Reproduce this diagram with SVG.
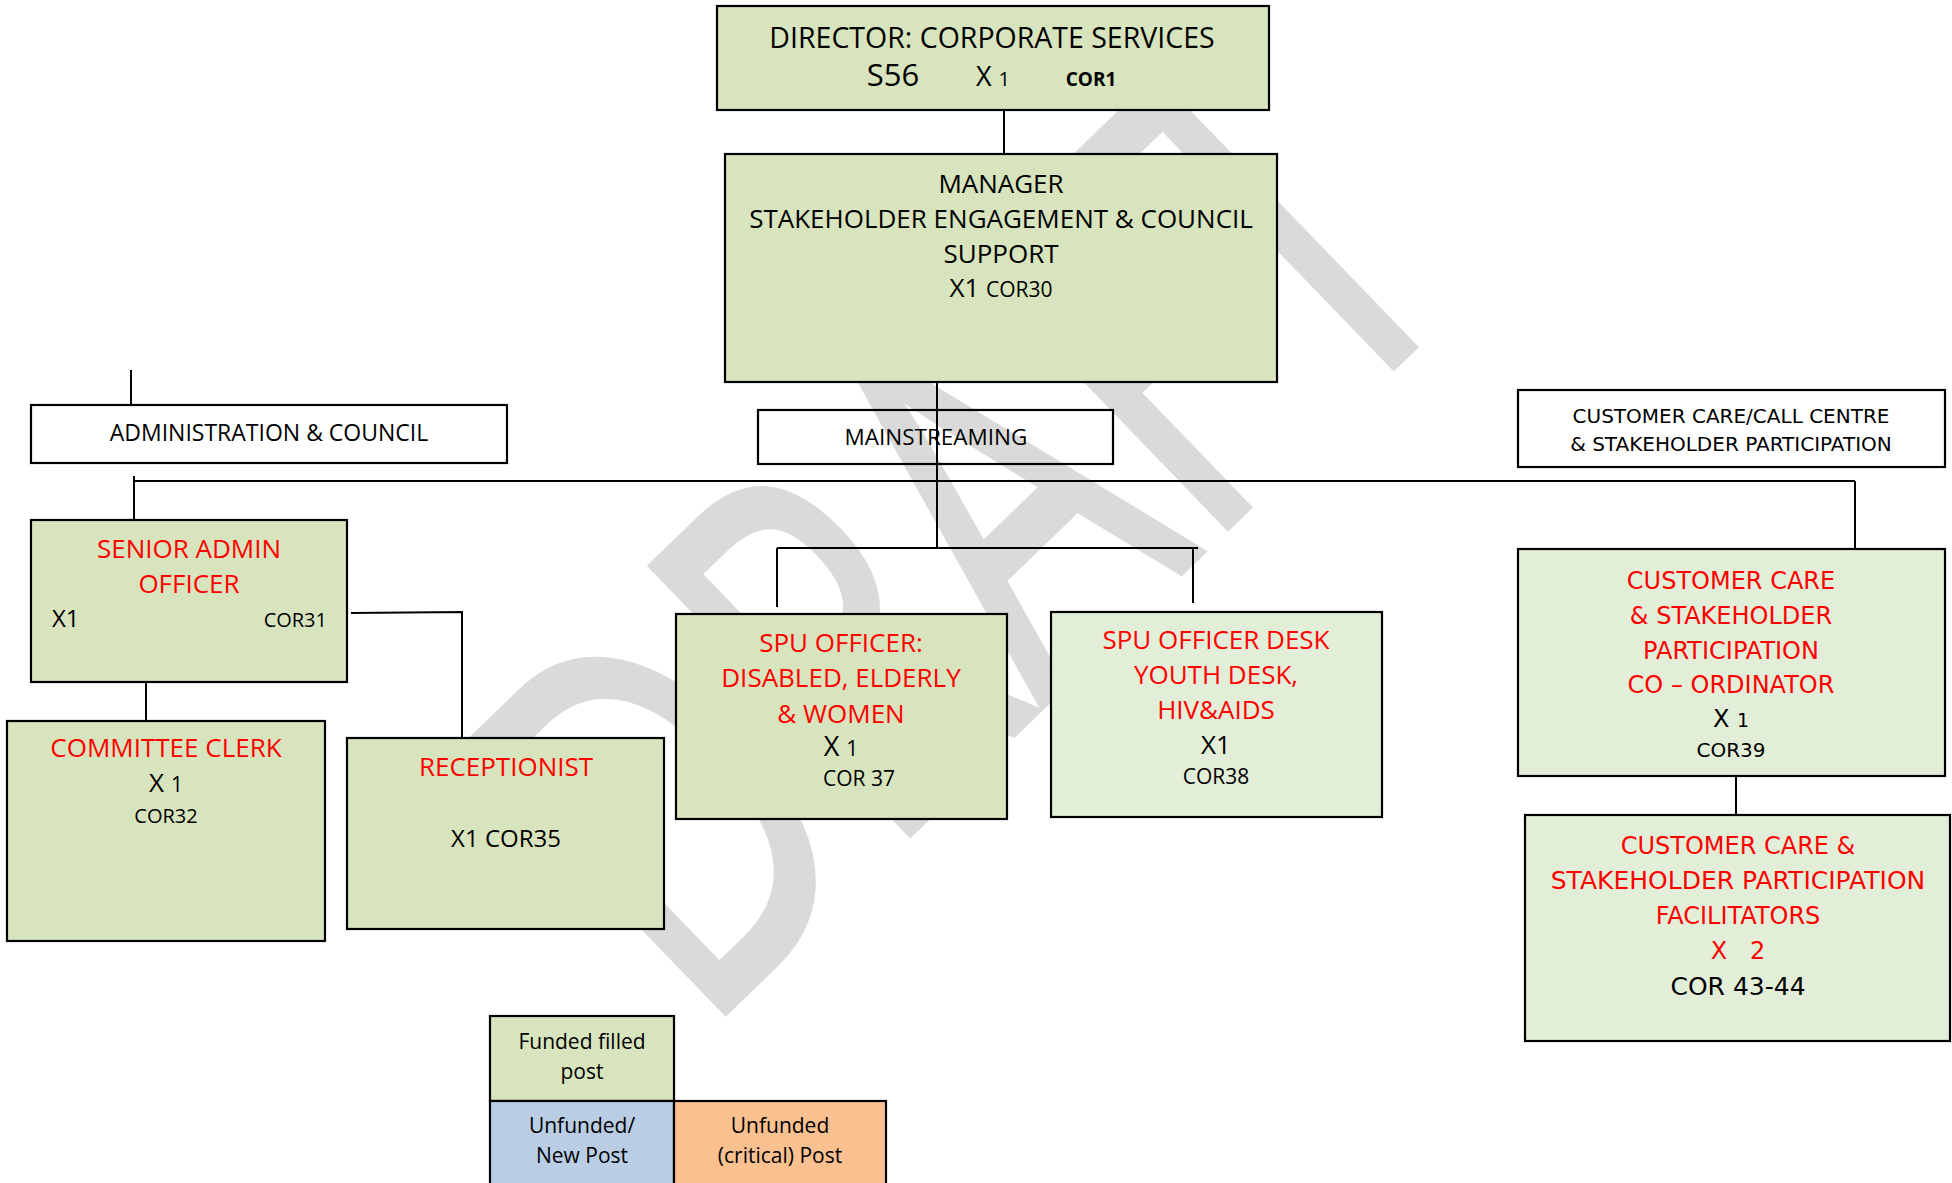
<svg xmlns="http://www.w3.org/2000/svg" width="1952" height="1183" viewBox="0 0 1952 1183">
<defs>
<style>
.box{stroke:#000;stroke-width:2.2}
.g{fill:#d7e4bd}
.lg{fill:#e3eed9}
.w{fill:none}
.t{font-family:"Open Sans","Liberation Sans",sans-serif;text-anchor:middle;fill:#000}
.d{font-family:"DejaVu Sans","Liberation Sans",sans-serif;text-anchor:middle;fill:#000}
.r{fill:#ff0000}
.ln{stroke:#000;stroke-width:2;fill:none}
</style>
</defs>
<rect width="1952" height="1183" fill="#fff"/>
<text x="0" y="0" transform="translate(700,1036) rotate(-44) scale(0.68,1)" font-family="Open Sans" font-size="520" fill="#dadada" stroke="#dadada" stroke-width="8">DRAFT</text>

<g id="connectors">
<line class="ln" x1="1004" y1="110" x2="1004" y2="154"/>
<line class="ln" x1="937" y1="382" x2="937" y2="548"/>
<line class="ln" x1="131" y1="370" x2="131" y2="405"/>
<line class="ln" x1="133" y1="481" x2="1855" y2="481"/>
<line class="ln" x1="134" y1="476" x2="134" y2="520"/>
<line class="ln" x1="1855" y1="481" x2="1855" y2="549"/>
<line class="ln" x1="777" y1="548" x2="1198" y2="548"/>
<line class="ln" x1="777" y1="548" x2="777" y2="607"/>
<line class="ln" x1="1193" y1="548" x2="1193" y2="603"/>
<path class="ln" d="M351,613 L462,612 L462,738"/>
<line class="ln" x1="146" y1="682" x2="146" y2="721"/>
<line class="ln" x1="1736" y1="776" x2="1736" y2="815"/>
</g>

<g id="director">
<rect class="box g" x="717" y="6" width="552" height="104"/>
<text class="t" x="992" y="48" font-size="28.5">DIRECTOR: CORPORATE SERVICES</text>
<text class="t" x="893" y="86" font-size="31">S56</text>
<text class="t" x="993" y="86" font-size="27">X <tspan font-size="20">1</tspan></text>
<text class="t" x="1091" y="86" font-size="19" font-weight="bold">COR1</text>
</g>

<g id="manager">
<rect class="box g" x="725" y="154" width="552" height="228"/>
<text class="t" x="1001" y="193" font-size="26">MANAGER</text>
<text class="t" x="1001" y="228" font-size="26">STAKEHOLDER ENGAGEMENT &amp; COUNCIL</text>
<text class="t" x="1001" y="263" font-size="26">SUPPORT</text>
<text class="t" x="1001" y="297" font-size="26">X1 <tspan font-size="21">COR30</tspan></text>
</g>

<g id="admin-council">
<rect class="box w" x="31" y="405" width="476" height="58"/>
<text class="t" x="269" y="441" font-size="23">ADMINISTRATION &amp; COUNCIL</text>
</g>

<g id="mainstreaming">
<rect class="box w" x="758" y="410" width="355" height="54"/>
<text class="t" x="936" y="445" font-size="22.5">MAINSTREAMING</text>
</g>

<g id="customer-care-centre">
<rect class="box w" x="1518" y="390" width="427" height="77"/>
<text class="d" x="1731" y="423" font-size="20">CUSTOMER CARE/CALL CENTRE</text>
<text class="d" x="1731" y="451" font-size="20">&amp; STAKEHOLDER PARTICIPATION</text>
</g>

<g id="senior-admin">
<rect class="box g" x="31" y="520" width="316" height="162"/>
<text class="t r" x="189" y="558" font-size="26">SENIOR ADMIN</text>
<text class="t r" x="189" y="593" font-size="26">OFFICER</text>
<text class="t" x="52" y="627" font-size="24" style="text-anchor:start">X1</text>
<text class="t" x="327" y="627" font-size="20" style="text-anchor:end">COR31</text>
</g>

<g id="committee-clerk">
<rect class="box g" x="7" y="721" width="318" height="220"/>
<text class="t r" x="166" y="757" font-size="26">COMMITTEE CLERK</text>
<text class="t" x="166" y="792" font-size="26">X <tspan font-size="21">1</tspan></text>
<text class="t" x="166" y="823" font-size="20">COR32</text>
</g>

<g id="receptionist">
<rect class="box g" x="347" y="738" width="317" height="191"/>
<text class="t r" x="506" y="776" font-size="26">RECEPTIONIST</text>
<text class="t" x="506" y="847" font-size="24">X1 COR35</text>
</g>

<g id="spu-officer">
<rect class="box g" x="676" y="614" width="331" height="205"/>
<text class="t r" x="841" y="652" font-size="26">SPU OFFICER:</text>
<text class="t r" x="841" y="687" font-size="26">DISABLED, ELDERLY</text>
<text class="t r" x="841" y="723" font-size="26">&amp; WOMEN</text>
<text class="t" x="841" y="756" font-size="27">X <tspan font-size="21">1</tspan></text>
<text class="t" x="859" y="786" font-size="21">COR 37</text>
</g>

<g id="spu-desk">
<rect class="box lg" x="1051" y="612" width="331" height="205"/>
<text class="t r" x="1216" y="649" font-size="26">SPU OFFICER DESK</text>
<text class="t r" x="1216" y="684" font-size="26">YOUTH DESK,</text>
<text class="t r" x="1216" y="719" font-size="26">HIV&amp;AIDS</text>
<text class="t" x="1216" y="754" font-size="26">X1</text>
<text class="t" x="1216" y="784" font-size="21">COR38</text>
</g>

<g id="cc-coordinator">
<rect class="box lg" x="1518" y="549" width="427" height="227"/>
<text class="d r" x="1731" y="589" font-size="24">CUSTOMER CARE</text>
<text class="d r" x="1731" y="624" font-size="24">&amp; STAKEHOLDER</text>
<text class="d r" x="1731" y="659" font-size="24">PARTICIPATION</text>
<text class="d r" x="1731" y="693" font-size="24">CO – ORDINATOR</text>
<text class="d" x="1731" y="727" font-size="24">X <tspan font-size="19">1</tspan></text>
<text class="d" x="1731" y="757" font-size="20">COR39</text>
</g>

<g id="cc-facilitators">
<rect class="box lg" x="1525" y="815" width="425" height="226"/>
<text class="d r" x="1738" y="854" font-size="24">CUSTOMER CARE &amp;</text>
<text class="d r" x="1738" y="889" font-size="25">STAKEHOLDER PARTICIPATION</text>
<text class="d r" x="1738" y="924" font-size="24">FACILITATORS</text>
<text class="d r" x="1738" y="959" font-size="24" xml:space="preserve">X   2</text>
<text class="d" x="1738" y="995" font-size="25">COR 43-44</text>
</g>

<g id="legend-funded">
<rect class="box g" x="490" y="1016" width="184" height="85"/>
<text class="t" x="582" y="1049" font-size="21">Funded filled</text>
<text class="t" x="582" y="1079" font-size="21">post</text>
</g>
<g id="legend-unfunded-new">
<rect class="box" fill="#b9cde5" x="490" y="1101" width="184" height="92"/>
<text class="t" x="582" y="1133" font-size="21">Unfunded/</text>
<text class="t" x="582" y="1163" font-size="21">New Post</text>
</g>
<g id="legend-unfunded-critical">
<rect class="box" fill="#fac090" x="674" y="1101" width="212" height="92"/>
<text class="t" x="780" y="1133" font-size="21">Unfunded</text>
<text class="t" x="780" y="1163" font-size="21">(critical) Post</text>
</g>
</svg>
